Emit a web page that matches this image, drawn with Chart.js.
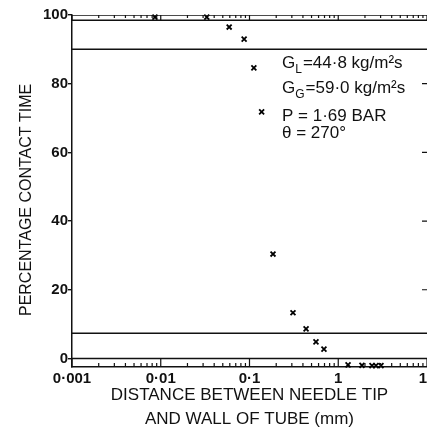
<!DOCTYPE html>
<html>
<head>
<meta charset="utf-8">
<script src="https://cdn.jsdelivr.net/npm/chart.js@4/dist/chart.umd.min.js"></script>
<style>
  html, body { margin: 0; padding: 0; background: #fff; overflow: hidden; }
  #wrap { width: 440px; height: 432px; }
</style>
</head>
<body>
<div id="wrap"><canvas id="myChart" width="440" height="432"></canvas></div>
<script>
// distance between needle tip and tube wall (mm) against percentage contact time
const distanceMm = [0.0086, 0.033, 0.059, 0.087, 0.112, 0.137, 0.184, 0.309, 0.434, 0.561, 0.69, 1.29, 1.85, 2.4, 2.66, 3.03];
const contactPct = [99.4, 99.4, 96.5, 93.0, 84.6, 71.8, 30.4, 13.3, 8.6, 4.8, 2.7, -1.9, -2.0, -2.1, -2.1, -2.1];

// horizontal rules of the original figure (percent)
const ruleValues = [100, 98.5, 90, 7.3, 0];

const decadeValues = [0.001, 0.01, 0.1, 1, 10];
const decadeLabels = ["0·001", "0·01", "0·1", "1", "10"];
const yTickValues = [0, 20, 40, 60, 80, 100];

const conditionLines = ["=44·8 kg/m²s", "=59·0 kg/m²s", "P = 1·69 BAR", "θ = 270°"];

const xMin = 0.001, xMax = 10, yMin = -2.5, yMax = 100;

// log axis ticks: decades plus 2..9 in between
const xTickValues = [];
decadeValues.forEach((d, i) => {
  xTickValues.push(d);
  if (i < decadeValues.length - 1) {
    for (let k = 2; k <= 9; k++) xTickValues.push(+(d * k).toPrecision(3));
  }
});

const ink = "#111";
Chart.defaults.font.family = "'Liberation Sans', Arial, sans-serif";
Chart.defaults.color = ink;

// short tick marks inside the top and bottom strips, and on the right edge
const stripTicks = {
  id: "stripTicks",
  afterDraw(chart) {
    const { ctx, chartArea: a, scales: { x, y } } = chart;
    const bot = y.getPixelForValue(yMin), zero = y.getPixelForValue(0);
    const top = y.getPixelForValue(100), strip = y.getPixelForValue(98.5);
    ctx.save();
    ctx.strokeStyle = ink;
    ctx.lineWidth = 1.2;
    ctx.beginPath();
    xTickValues.forEach((v) => {
      const px = x.getPixelForValue(v);
      const major = decadeValues.includes(v);
      ctx.moveTo(px, bot);
      ctx.lineTo(px, major ? zero : bot - 4);
      ctx.moveTo(px, top);
      ctx.lineTo(px, major ? strip : top + 3);
    });
    yTickValues.slice(1, -1).forEach((v) => {
      const py = y.getPixelForValue(v);
      ctx.moveTo(a.right, py);
      ctx.lineTo(a.right - 5, py);
    });
    ctx.stroke();
    ctx.restore();
  },
};

// flow conditions written beside the points
const conditions = {
  id: "conditions",
  afterDraw(chart) {
    const { ctx, chartArea: a } = chart;
    const left = a.left + 210;
    const big = "17px 'Liberation Sans', Arial, sans-serif";
    const small = "12px 'Liberation Sans', Arial, sans-serif";
    ctx.save();
    ctx.fillStyle = ink;
    ctx.textBaseline = "alphabetic";
    const subs = ["L", "G"];
    const baselines = [53, 78];
    subs.forEach((s, i) => {
      const by = a.top + baselines[i];
      ctx.font = big;
      ctx.fillText("G", left, by);
      let cx = left + ctx.measureText("G").width;
      ctx.font = small;
      ctx.fillText(s, cx, by + 5);
      cx += ctx.measureText(s).width + 1;
      ctx.font = big;
      ctx.fillText(conditionLines[i], cx, by);
    });
    ctx.font = big;
    ctx.fillText(conditionLines[2], left, a.top + 106);
    ctx.fillText(conditionLines[3], left, a.top + 123);
    ctx.restore();
  },
};

const ruleSets = ruleValues.map((v) => ({
  data: [{ x: xMin, y: v }, { x: xMax, y: v }],
  showLine: true,
  pointRadius: 0,
  borderColor: ink,
  borderWidth: 1.5,
}));

const pointSet = {
  data: distanceMm.map((d, i) => ({ x: d, y: contactPct[i] })),
  pointStyle: "crossRot",
  pointRadius: 3.5,
  borderColor: "#000",
  backgroundColor: "#000",
  borderWidth: 1.8,
  clip: false,
};

const ctx = document.getElementById("myChart").getContext("2d");
new Chart(ctx, {
  type: "scatter",
  data: { datasets: [...ruleSets, pointSet] },
  options: {
    responsive: false,
    animation: false,
    devicePixelRatio: 1,
    layout: { padding: { top: 15, right: 13, left: 0, bottom: 0 } },
    plugins: { legend: { display: false }, tooltip: { enabled: false } },
    scales: {
      x: {
        type: "logarithmic",
        min: xMin,
        max: xMax,
        afterBuildTicks: (s) => { s.ticks = xTickValues.map((v) => ({ value: v })); },
        afterFit: (s) => { s.height = 65; },
        grid: { display: false, drawTicks: false },
        border: { display: true, color: ink, width: 1.5 },
        ticks: {
          autoSkip: false,
          maxRotation: 0,
          padding: 3,
          font: { size: 15, weight: "bold" },
          callback: (v) => {
            const i = decadeValues.indexOf(v);
            return i >= 0 ? decadeLabels[i] : "";
          },
        },
        title: {
          display: true,
          text: ["DISTANCE BETWEEN NEEDLE TIP", "AND WALL OF TUBE (mm)"],
          font: { size: 17, lineHeight: 1.4 },
          padding: { top: 0, bottom: 1 },
        },
      },
      y: {
        min: yMin,
        max: yMax,
        afterBuildTicks: (s) => { s.ticks = yTickValues.map((v) => ({ value: v })); },
        afterFit: (s) => { s.width = 72; },
        grid: { drawOnChartArea: false, drawTicks: true, tickLength: 4, color: ink, lineWidth: 1.4 },
        border: { display: true, color: ink, width: 1.5 },
        ticks: { padding: 0, font: { size: 15, weight: "bold" } },
        title: {
          display: true,
          // trailing no-break spaces nudge the rotated title down a little
          text: "PERCENTAGE CONTACT TIME\u00a0\u00a0\u00a0\u00a0",
          font: { size: 16, lineHeight: 1.2 },
          padding: { top: 17, bottom: 0 },
        },
      },
    },
  },
  plugins: [stripTicks, conditions],
});
</script>
</body>
</html>
